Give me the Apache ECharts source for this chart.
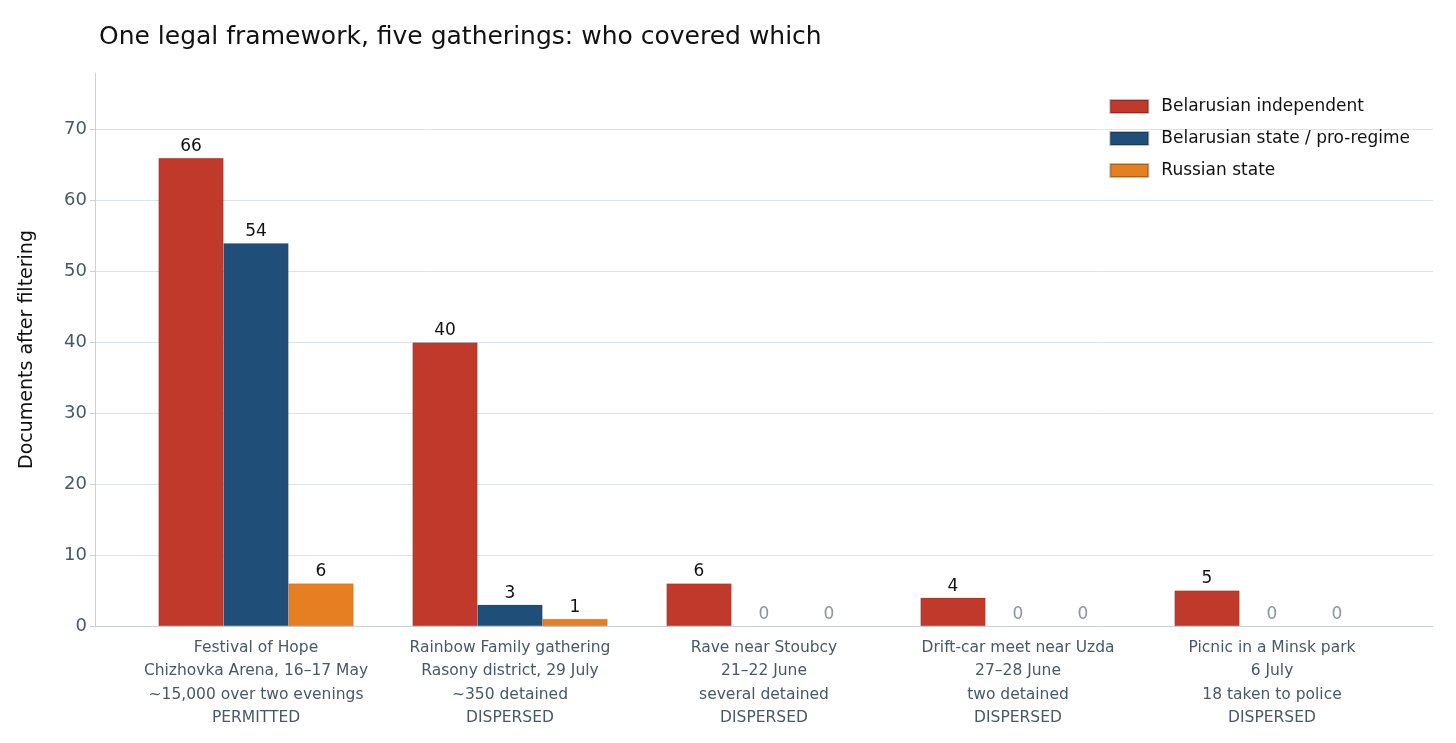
<!DOCTYPE html>
<html><head><meta charset="utf-8">
<script src="https://cdn.jsdelivr.net/npm/echarts@6/dist/echarts.min.js"></script>
<style>html,body{margin:0;padding:0;background:#fff}#main{width:1456px;height:743px}</style>
</head><body><div id="main"></div>
<script>
var categories = [
  'Festival of Hope\nChizhovka Arena, 16–17 May\n~15,000 over two evenings\nPERMITTED',
  'Rainbow Family gathering\nRasony district, 29 July\n~350 detained\nDISPERSED',
  'Rave near Stoubcy\n21–22 June\nseveral detained\nDISPERSED',
  'Drift-car meet near Uzda\n27–28 June\ntwo detained\nDISPERSED',
  'Picnic in a Minsk park\n6 July\n18 taken to police\nDISPERSED'
];
var independent = [66, 40, 6, 4, 5];
var stateBy = [54, 3, 0, 0, 0];
var russian = [6, 1, 0, 0, 0];
var colors = ['#c0392b', '#1f4e79', '#e67e22'];

function items(arr) {
  return arr.map(function (v) {
    return v === 0 ? { value: v, label: { color: '#8a96a3' }, itemStyle: { borderWidth: 0 } } : v;
  });
}
function series(name, arr, i) {
  return {
    name: name, type: 'bar', data: items(arr), barWidth: 65, barGap: '0%',
    xAxisIndex: 1, yAxisIndex: 1,
    itemStyle: { color: colors[i], borderColor: 'rgba(0,0,0,0.25)', borderWidth: 0.5 },
    label: { show: true, position: 'top', distance: 3, color: '#111', fontSize: 17, fontFamily: 'DejaVu Sans' }
  };
}
var chart = echarts.init(document.getElementById('main'));
chart.setOption({
  animation: false,
  textStyle: { fontFamily: 'DejaVu Sans' },
  title: { text: 'One legal framework, five gatherings: who covered which', left: 94, top: 20,
    textStyle: { fontSize: 25, fontWeight: 'normal', color: '#111', fontFamily: 'DejaVu Sans' } },
  legend: { right: 41, top: 93, orient: 'vertical', itemWidth: 38, itemHeight: 13, itemGap: 15,
    textStyle: { fontSize: 17, color: '#111', padding: [0, 0, 0, 8] }, icon: 'rect',
    data: ['Belarusian independent', 'Belarusian state / pro-regime', 'Russian state'] },
  grid: [
    { left: 95, right: 23, top: 73, bottom: 117 },
    { left: 129, right: 57, top: 73, bottom: 117 }
  ],
  xAxis: [
    { type: 'value', gridIndex: 0, min: 0, max: 1, axisLabel: { show: false }, axisTick: { show: false },
      splitLine: { show: false }, axisLine: { show: true, onZero: false, lineStyle: { color: '#c9d1da' } } },
    { type: 'category', gridIndex: 1, data: categories,
      axisLine: { show: false },
      axisTick: { alignWithLabel: true, lineStyle: { color: '#c9d1da' }, length: 5 },
      axisLabel: { interval: 0, color: '#4a5866', fontSize: 15.5, lineHeight: 23.5, margin: 10 } }
  ],
  yAxis: [
    { type: 'value', gridIndex: 0, min: 0, max: 78, interval: 10,
      name: 'Documents after filtering', nameLocation: 'middle', nameGap: 58,
      nameTextStyle: { fontSize: 19, color: '#111' },
      axisLine: { show: true, lineStyle: { color: '#c9d1da' } },
      axisTick: { show: true, length: 5, lineStyle: { color: '#c9d1da' } },
      axisLabel: { color: '#4a5866', fontSize: 18, showMaxLabel: false },
      splitLine: { showMaxLine: false, lineStyle: { color: '#dde3ea' } } },
    { type: 'value', gridIndex: 1, min: 0, max: 78, interval: 10, show: false, splitLine: { show: false } }
  ],
  series: [
    series('Belarusian independent', independent, 0),
    series('Belarusian state / pro-regime', stateBy, 1),
    series('Russian state', russian, 2)
  ]
});
</script></body></html>
